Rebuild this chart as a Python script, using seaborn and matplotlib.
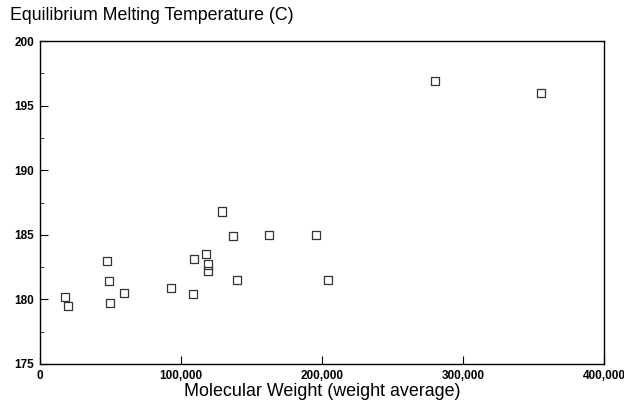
import matplotlib
matplotlib.use("Agg")
import matplotlib.pyplot as plt
import matplotlib.ticker as mticker
import seaborn as sns
import pandas as pd

# Data
mol_weight = [17700, 19600, 47300, 48900, 49600, 59800, 92700, 108300, 109500,
              117500, 118900, 118900, 128800, 137100, 139500, 162400, 195700,
              204500, 280100, 355300]
melt_temp = [180.2, 179.5, 183.0, 181.4, 179.7, 180.5, 180.9, 180.4, 183.1,
             183.5, 182.7, 182.2, 186.8, 184.9, 181.5, 185.0, 185.0,
             181.5, 196.9, 196.0]

x_ticks = [0, 100000, 200000, 300000, 400000]
y_ticks = [175, 180, 185, 190, 195, 200]

df = pd.DataFrame({"mw": mol_weight, "tm": melt_temp})

sns.set_theme(style="white")
plt.rcParams["font.family"] = ["Liberation Sans", "DejaVu Sans"]

fig = plt.figure(figsize=(6.24, 4.07), dpi=100)
ax = fig.add_axes([40 / 624, 1 - 364 / 407, 564 / 624, 323 / 407])

sns.scatterplot(data=df, x="mw", y="tm", ax=ax, marker="s", s=34,
                facecolor="none", edgecolor="#333333", linewidth=0.9)

ax.set_xlim(0, 400000)
ax.set_ylim(175, 200)
ax.set_xticks(x_ticks)
ax.set_yticks(y_ticks)
ax.yaxis.set_minor_locator(mticker.MultipleLocator(2.5))
ax.xaxis.set_major_formatter(mticker.FuncFormatter(lambda v, p: f"{int(v):,}"))
ax.tick_params(axis="both", which="major", direction="in", length=6, width=0.8,
               labelsize=8.5, colors="black", pad=4)
ax.tick_params(axis="y", which="minor", direction="in", length=3, width=0.6, left=True)
ax.tick_params(axis="both", which="both", bottom=True, left=True, top=False, right=False)
for lab in ax.get_xticklabels() + ax.get_yticklabels():
    lab.set_fontweight("bold")

for sp in ax.spines.values():
    sp.set_visible(True)
    sp.set_color("black")
    sp.set_linewidth(1.0)

ax.set_xlabel("Molecular Weight (weight average)", fontsize=12.9, color="black", labelpad=1)
ax.set_ylabel("")
fig.text(10 / 624, 1 - 16 / 407, "Equilibrium Melting Temperature (C)", fontsize=12.8,
         color="black", va="center", ha="left")

fig.savefig("out.png", dpi=100, facecolor="white")
